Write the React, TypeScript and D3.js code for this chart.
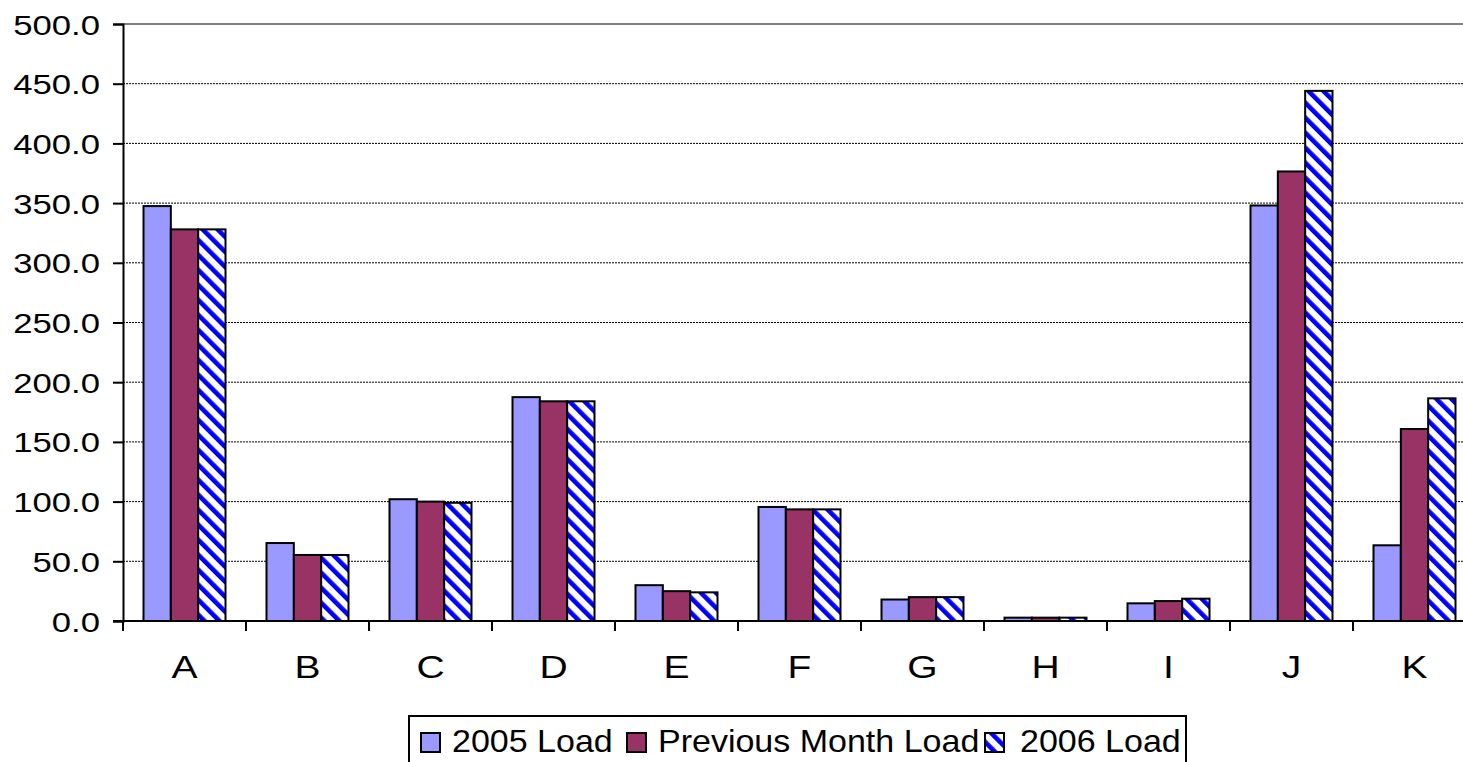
import * as d3 from "d3";
import { useEffect, useRef } from "react";

const categories = ["A", "B", "C", "D", "E", "F", "G", "H", "I", "J", "K"];
const seriesNames = ["2005 Load", "Previous Month Load", "2006 Load"];
const load2005 = [347.5, 65.3, 102, 187.5, 30, 95.5, 18, 2.8, 14.8, 348, 63.4];
const loadPrev = [328, 55.3, 100, 184, 25, 93.5, 20, 2.8, 16.7, 376.5, 160.8];
const load2006 = [328, 55.3, 99, 184, 24, 93.5, 20, 2.8, 18.7, 444, 186.5];
const yTicks = [0, 50, 100, 150, 200, 250, 300, 350, 400, 450, 500];

const FONT = "'Liberation Sans', Arial, sans-serif";

export default function App() {
    const svgRef = useRef<SVGSVGElement>(null);
    const width = 1463;
    const height = 762;
    const plotLeft = 123;
    const plotTop = 24;
    const plotBottom = 621;
    const plotRight = 123 + 11 * 123;

    useEffect(() => {
        if (svgRef.current) {
            drawChart();
        }
    }, [svgRef]);

    // text stretched sideways, the way the original rendering looks
    const addText = (g: any, x: number, y: number, txt: string, size: number, sx: number, anchor: string) => {
        g.append("text")
            .attr("transform", "translate(" + x + "," + y + ") scale(" + sx + ",1)")
            .attr("text-anchor", anchor)
            .attr("font-family", FONT)
            .attr("font-size", size)
            .attr("fill", "#000")
            .text(txt);
    };

    const drawChart = () => {
        const svg = d3.select(svgRef.current);
        svg.selectAll("*").remove();

        // hatch for the 2006 series
        const defs = svg.append("defs");
        const pat = defs
            .append("pattern")
            .attr("id", "hatch")
            .attr("patternUnits", "userSpaceOnUse")
            .attr("width", 10.6)
            .attr("height", 10.6)
            .attr("patternTransform", "rotate(-45)");
        pat.append("rect").attr("width", 10.6).attr("height", 10.6).attr("fill", "#ffffff");
        pat.append("rect").attr("width", 4.6).attr("height", 10.6).attr("fill", "#0000ff");

        const scaleX = d3
            .scaleBand()
            .domain(categories)
            .range([plotLeft, plotRight])
            .paddingInner(0)
            .paddingOuter(0);
        const scaleY = d3.scaleLinear().domain([0, 500]).range([plotBottom, plotTop]);
        const band = scaleX.bandwidth();
        const barW = band / 4.5;
        const inner = d3
            .scaleBand()
            .domain(seriesNames)
            .range([barW * 0.75, barW * 3.75]);

        // grid
        const grid = svg.append("g");
        grid.selectAll("line")
            .data(yTicks.filter((t) => t > 0 && t < 500))
            .enter()
            .append("line")
            .attr("x1", plotLeft)
            .attr("x2", plotRight)
            .attr("y1", (d) => scaleY(d))
            .attr("y2", (d) => scaleY(d))
            .attr("stroke", "#000")
            .attr("stroke-width", 1)
            .attr("stroke-dasharray", "2,1");
        svg.append("line")
            .attr("x1", plotLeft)
            .attr("x2", plotRight)
            .attr("y1", scaleY(500))
            .attr("y2", scaleY(500))
            .attr("stroke", "#808080")
            .attr("stroke-width", 2);

        // bars
        const series = [
            { name: seriesNames[0], values: load2005, fill: "#9999ff" },
            { name: seriesNames[1], values: loadPrev, fill: "#993366" },
            { name: seriesNames[2], values: load2006, fill: "url(#hatch)" },
        ];
        series.forEach((s) => {
            svg.append("g")
                .selectAll("rect")
                .data(s.values)
                .enter()
                .append("rect")
                .attr("x", (d, i) => (scaleX(categories[i]) as number) + (inner(s.name) as number))
                .attr("y", (d) => scaleY(d))
                .attr("width", inner.bandwidth())
                .attr("height", (d) => plotBottom - scaleY(d))
                .attr("fill", s.fill)
                .attr("stroke", "#000")
                .attr("stroke-width", 2);
        });

        // y axis
        const yAxis = svg
            .append("g")
            .attr("transform", "translate(" + plotLeft + ",0)")
            .call(d3.axisLeft(scaleY).tickValues(yTicks).tickSize(10).tickFormat(() => ""));
        yAxis.select(".domain").attr("stroke", "#000").attr("stroke-width", 2);
        yAxis.selectAll(".tick line").attr("stroke", "#000").attr("stroke-width", 2);
        const yLabels = svg.append("g");
        yTicks.forEach((t) => {
            addText(yLabels, 100, scaleY(t) + 10.5, d3.format(".1f")(t), 28, 1.24, "end");
        });

        // x axis
        const xAxis = svg
            .append("g")
            .attr("transform", "translate(0," + plotBottom + ")");
        xAxis.append("line")
            .attr("x1", plotLeft - 10)
            .attr("x2", plotRight)
            .attr("stroke", "#000")
            .attr("stroke-width", 2);
        xAxis.selectAll("line.tk")
            .data(d3.range(categories.length + 1))
            .enter()
            .append("line")
            .attr("class", "tk")
            .attr("x1", (i) => plotLeft + i * band)
            .attr("x2", (i) => plotLeft + i * band)
            .attr("y1", 0)
            .attr("y2", 10)
            .attr("stroke", "#000")
            .attr("stroke-width", 2);
        const xLabels = svg.append("g");
        categories.forEach((c) => {
            addText(xLabels, (scaleX(c) as number) + band / 2, 678, c, 32, 1.22, "middle");
        });

        // legend
        const legend = svg.append("g");
        legend.append("rect")
            .attr("x", 409)
            .attr("y", 716)
            .attr("width", 777)
            .attr("height", 60)
            .attr("fill", "#fff")
            .attr("stroke", "#000")
            .attr("stroke-width", 2);
        const items = [
            { name: seriesNames[0], fill: "#9999ff", sx: 421, tx: 452 },
            { name: seriesNames[1], fill: "#993366", sx: 627, tx: 658 },
            { name: seriesNames[2], fill: "url(#hatch)", sx: 985, tx: 1020 },
        ];
        items.forEach((it) => {
            legend.append("rect")
                .attr("x", it.sx)
                .attr("y", 733)
                .attr("width", 19)
                .attr("height", 19)
                .attr("fill", it.fill)
                .attr("stroke", "#000")
                .attr("stroke-width", 2);
            addText(legend, it.tx, 752, it.name, 31.5, 1.08, "start");
        });
    };

    return (
        <svg
            ref={svgRef}
            width={width}
            height={height}
            style={{ position: "absolute", left: 0, top: 0, background: "#fff" }}
        />
    );
}
